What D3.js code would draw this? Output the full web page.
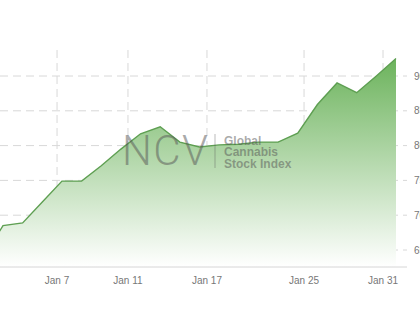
<!DOCTYPE html>
<html>
<head>
<meta charset="utf-8">
<script src="https://cdn.jsdelivr.net/npm/d3@7"></script>
<style>
  body { margin: 0; background: #fff; }
  svg { display: block; font-family: "Liberation Sans", Arial, sans-serif; }
</style>
</head>
<body>
<svg id="chart" width="420" height="322"></svg>
<script>
// trading days, Jan 2019 (index 0 = Jan 2, -1 = Dec 31)
const days = ['Dec 31', 'Jan 2', 'Jan 3', 'Jan 4', 'Jan 7', 'Jan 8', 'Jan 9', 'Jan 10', 'Jan 11',
  'Jan 14', 'Jan 15', 'Jan 16', 'Jan 17', 'Jan 18', 'Jan 22', 'Jan 23', 'Jan 24', 'Jan 25',
  'Jan 28', 'Jan 29', 'Jan 30', 'Jan 31'];
const dayIndex = d3.range(-1, 21);
const values = [63.9, 68.5, 68.9, 71.9, 74.9, 74.9, 77.1, 79.5, 81.7,
  82.7, 80.5, 79.8, 80.1, 80.2, 80.5, 80.5, 81.8, 85.9,
  89.0, 87.6, 90.0, 92.5];
const tickLabels = ['Jan 7', 'Jan 11', 'Jan 17', 'Jan 25', 'Jan 31'];
const tickPos = [2.75, 6.36, 10.38, 15.32, 19.34];
const yTicks = [65, 70, 75, 80, 85, 90];

const data = dayIndex.map((d, i) => ({ i: d, day: days[i], v: values[i] }));

const svg = d3.select('#chart');
const x = d3.scaleLinear().domain([0, 20]).range([3, 396]);
const y = d3.scaleLinear().domain([65, 90]).range([250, 76]);
const plotBottom = 267, plotTop = 50, gridRight = 407;

// gradient
const grad = svg.append('defs').append('linearGradient')
  .attr('id', 'fill')
  .attr('gradientUnits', 'userSpaceOnUse')
  .attr('x1', 0).attr('x2', 0)
  .attr('y1', y(d3.max(values))).attr('y2', plotBottom);
grad.append('stop').attr('offset', 0).attr('stop-color', '#6cb35c');
grad.append('stop').attr('offset', 1).attr('stop-color', '#ffffff');

// horizontal grid
svg.append('g').selectAll('line')
  .data(yTicks).enter().append('line')
  .attr('x1', 0).attr('x2', gridRight)
  .attr('y1', d => y(d)).attr('y2', d => y(d))
  .attr('stroke', '#d8d8d8').attr('stroke-dasharray', '8,5');

// vertical grid
svg.append('g').selectAll('line')
  .data(tickPos).enter().append('line')
  .attr('x1', d => x(d)).attr('x2', d => x(d))
  .attr('y1', plotTop).attr('y2', plotBottom + 4)
  .attr('stroke', '#d8d8d8').attr('stroke-dasharray', '8,5');

// area + line
const area = d3.area().x(d => x(d.i)).y0(plotBottom).y1(d => y(d.v));
const line = d3.line().x(d => x(d.i)).y(d => y(d.v));
svg.append('path').datum(data).attr('d', area).attr('fill', 'url(#fill)');
svg.append('path').datum(data).attr('d', line)
  .attr('fill', 'none').attr('stroke', '#5e9f52').attr('stroke-width', 1.4);

// watermark
const wm = svg.append('g').attr('fill', '#555').attr('fill-opacity', 0.5);
wm.append('text').attr('x', 122).attr('y', 165)
  .attr('font-size', 42).attr('font-weight', 300)
  .attr('font-family', 'Roboto, sans-serif').attr('textLength', 86)
  .text('NCV');
wm.append('line').attr('x1', 215).attr('x2', 215).attr('y1', 134).attr('y2', 168)
  .attr('stroke', '#555').attr('stroke-opacity', 0.4);
['Global', 'Cannabis', 'Stock Index'].forEach((t, i) => {
  wm.append('text').attr('x', 224).attr('y', 144.5 + i * 11.6)
    .attr('font-size', 12).attr('font-weight', 'bold').text(t);
});

// x axis
svg.append('line').attr('x1', 0).attr('x2', gridRight)
  .attr('y1', plotBottom).attr('y2', plotBottom).attr('stroke', '#d6d6d6');
svg.append('g').selectAll('text')
  .data(tickPos).enter().append('text')
  .attr('x', d => x(d)).attr('y', 284)
  .attr('text-anchor', 'middle').attr('font-size', 10).attr('fill', '#777')
  .text((d, i) => tickLabels[i]);

// y labels (right, cut off as in the source)
svg.append('g').selectAll('text')
  .data(yTicks).enter().append('text')
  .attr('x', 414).attr('y', d => y(d) + 3.5)
  .attr('font-size', 10).attr('fill', '#777')
  .text(d => d);
</script>
</body>
</html>
